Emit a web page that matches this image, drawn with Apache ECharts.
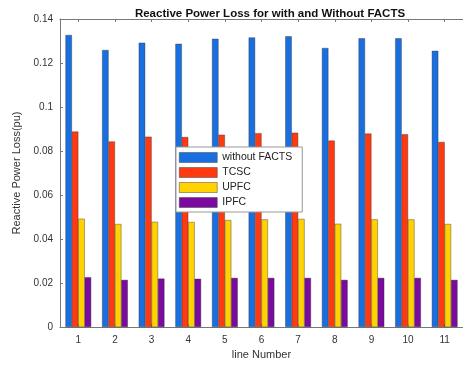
<!DOCTYPE html>
<html>
<head>
<meta charset="utf-8">
<script src="https://cdn.jsdelivr.net/npm/echarts@6/dist/echarts.min.js"></script>
<style>html,body{margin:0;padding:0;background:#fff;}#c{width:463px;height:366px;}</style>
</head>
<body>
<div id="c"></div>
<script>
const categories = ['1','2','3','4','5','6','7','8','9','10','11'];
const withoutFACTS = [0.1327,0.1259,0.1292,0.1287,0.1310,0.1316,0.1321,0.1268,0.1312,0.1312,0.1255];
const tcsc = [0.0888,0.0843,0.0865,0.0863,0.0874,0.0881,0.0883,0.0847,0.0879,0.0876,0.0841];
const upfc = [0.0492,0.0468,0.0478,0.0477,0.0486,0.0489,0.0491,0.0469,0.0489,0.0489,0.0468];
const ipfc = [0.0226,0.0214,0.0220,0.0219,0.0223,0.0223,0.0223,0.0214,0.0223,0.0223,0.0214];
const seriesNames = ['without FACTS','TCSC','UPFC','IPFC'];
const colors = ['#1a6fe0','#ff3a10','#ffd200','#7a0aa0'];
const yTicks = {min:0, max:0.14, interval:0.02};

const font = 'Liberation Sans, Arial, sans-serif';
const chart = echarts.init(document.getElementById('c'));
const axisLine = {show:true, onZero:false, lineStyle:{color:'#777', width:1}};
const data = [withoutFACTS, tcsc, upfc, ipfc];
chart.setOption({
  animation:false,
  title:{text:'Reactive Power Loss for with and Without FACTS', left:265, textAlign:'center', top:3,
    textStyle:{fontFamily:font, fontSize:11.5, fontWeight:'bold', color:'#111'}},
  grid:{left:60, top:19, right:-7, bottom:39, containLabel:false},
  legend:{orient:'vertical', left:176, top:147, itemWidth:38, itemHeight:10, itemGap:4,
    padding:[5,10,4,3], backgroundColor:'#fff', borderColor:'#999', borderWidth:1,
    itemStyle:{borderColor:'#444', borderWidth:0.5},
    textStyle:{fontFamily:font, fontSize:10.5, color:'#222'},
    icon:'rect', data:seriesNames},
  xAxis:[{type:'category', data:categories, position:'bottom',
    name:'line Number', nameLocation:'middle', nameGap:21,
    nameTextStyle:{fontFamily:font, fontSize:11, color:'#333'},
    axisLine:axisLine, axisTick:{show:true, inside:true, length:3, alignWithLabel:true, lineStyle:{color:'#777'}},
    axisLabel:{fontFamily:font, fontSize:10, color:'#333', margin:8}},
  {type:'category', data:categories, position:'top',
    axisLine:axisLine, axisTick:{show:true, inside:true, length:3, alignWithLabel:true, lineStyle:{color:'#777'}},
    axisLabel:{show:false}}],
  yAxis:[{type:'value', min:yTicks.min, max:yTicks.max, interval:yTicks.interval,
    name:'Reactive Power Loss(pu)', nameLocation:'middle', nameGap:36,
    nameTextStyle:{fontFamily:font, fontSize:11, color:'#333'},
    axisLine:axisLine, axisTick:{show:true, inside:true, length:3, lineStyle:{color:'#777'}},
    splitLine:{show:false},
    axisLabel:{fontFamily:font, fontSize:10, color:'#333', margin:7}},
  {type:'value', min:yTicks.min, max:yTicks.max, interval:yTicks.interval, position:'right',
    axisLine:axisLine, axisTick:{show:false}, axisLabel:{show:false}, splitLine:{show:false}}],
  series: seriesNames.map((n,i)=>({
    name:n, type:'bar', data:data[i], barGap:'0%', barCategoryGap:'30%',
    itemStyle:{color:colors[i], borderColor:'#333', borderWidth:0.4}
  }))
});
</script>
</body>
</html>
